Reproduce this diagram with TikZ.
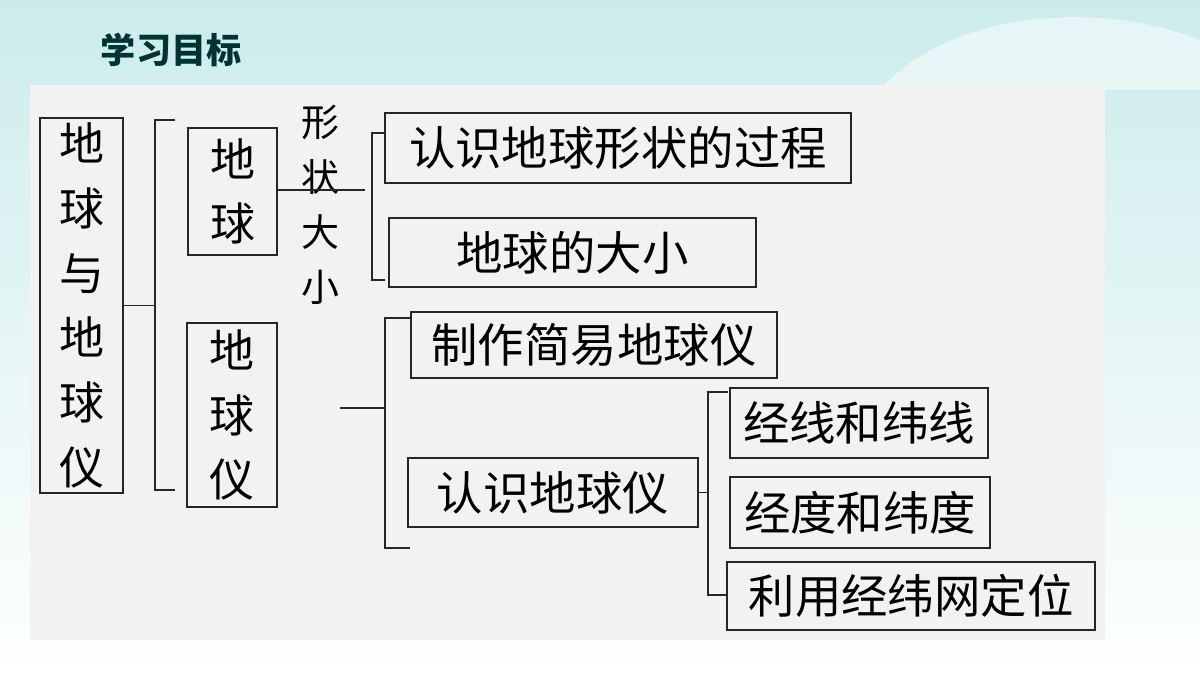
\documentclass[tikz,border=0pt]{standalone}
\usepackage{fontspec}
\setmainfont{Noto Sans CJK SC}
\begin{document}
\begin{tikzpicture}[x=0.025cm,y=-0.025cm,
  box/.style={draw=black!85,line width=1.2pt,inner sep=0pt,font=\fontsize{33}{38}\selectfont},
  vln/.style={align=center,font=\fontsize{32}{46}\selectfont},
  ln/.style={line width=1.2pt,black!85}]
\useasboundingbox (0,0) rectangle (1200,675);
\shade[top color=cyan!25!teal!20!white,bottom color=white] (0,0) rectangle (1200,675);
\fill[white,opacity=0.5] (880,90) .. controls (950,10) and (1100,0) .. (1200,40) -- (1200,90) -- cycle;
\fill[black!5] (30,85) rectangle (1105,640);
\node[font=\fontsize{25}{28}\selectfont\bfseries,text=teal!40!black,anchor=west] (title) at (96,50) {学习目标};
% boxes
\node[box,vln,minimum width=83*0.025cm,minimum height=375*0.025cm] (root) at (81.5,305.5) {地\\球\\与\\地\\球\\仪};
\node[box,vln,minimum width=89*0.025cm,minimum height=127*0.025cm] (dq) at (232.5,191.5) {地\\球};
\node[box,vln,minimum width=90*0.025cm,minimum height=184*0.025cm] (dqy) at (232,415) {地\\球\\仪};
\node[align=center,font=\fontsize{27}{39}\selectfont] (xz) at (320,205) {形\\状\\大\\小};
\node[box,minimum width=466*0.025cm,minimum height=70*0.025cm] (a1) at (618,148) {认识地球形状的过程};
\node[box,minimum width=367*0.025cm,minimum height=69*0.025cm] (a2) at (572.5,252.5) {地球的大小};
\node[box,minimum width=366*0.025cm,minimum height=66*0.025cm] (b1) at (594,345) {制作简易地球仪};
\node[box,minimum width=290*0.025cm,minimum height=69*0.025cm] (b2) at (553,492.5) {认识地球仪};
\node[box,minimum width=258*0.025cm,minimum height=70*0.025cm] (c1) at (859,423) {经线和纬线};
\node[box,minimum width=260*0.025cm,minimum height=71*0.025cm] (c2) at (860,512.5) {经度和纬度};
\node[box,minimum width=368*0.025cm,minimum height=68*0.025cm] (c3) at (911,596) {利用经纬网定位};
% connectors
\draw[ln] (root.east) -- (155,305.5);
\draw[ln] (175,120) -- (155,120) -- (155,490) -- (175,490);
\draw[ln] (dq.east |- 0,190) -- (365,190);
\draw[ln] (385,133) -- (372,133) -- (372,280) -- (385,280);
\coordinate (m) at (340,408);
\draw[ln] (m) -- (385,408);
\draw[ln] (410,318) -- (385,318) -- (385,548) -- (410,548);
\draw[ln] (b2.east) -- (708,492.5);
\draw[ln] (728,392) -- (708,392) -- (708,595) -- (728,595);
\end{tikzpicture}
\end{document}
